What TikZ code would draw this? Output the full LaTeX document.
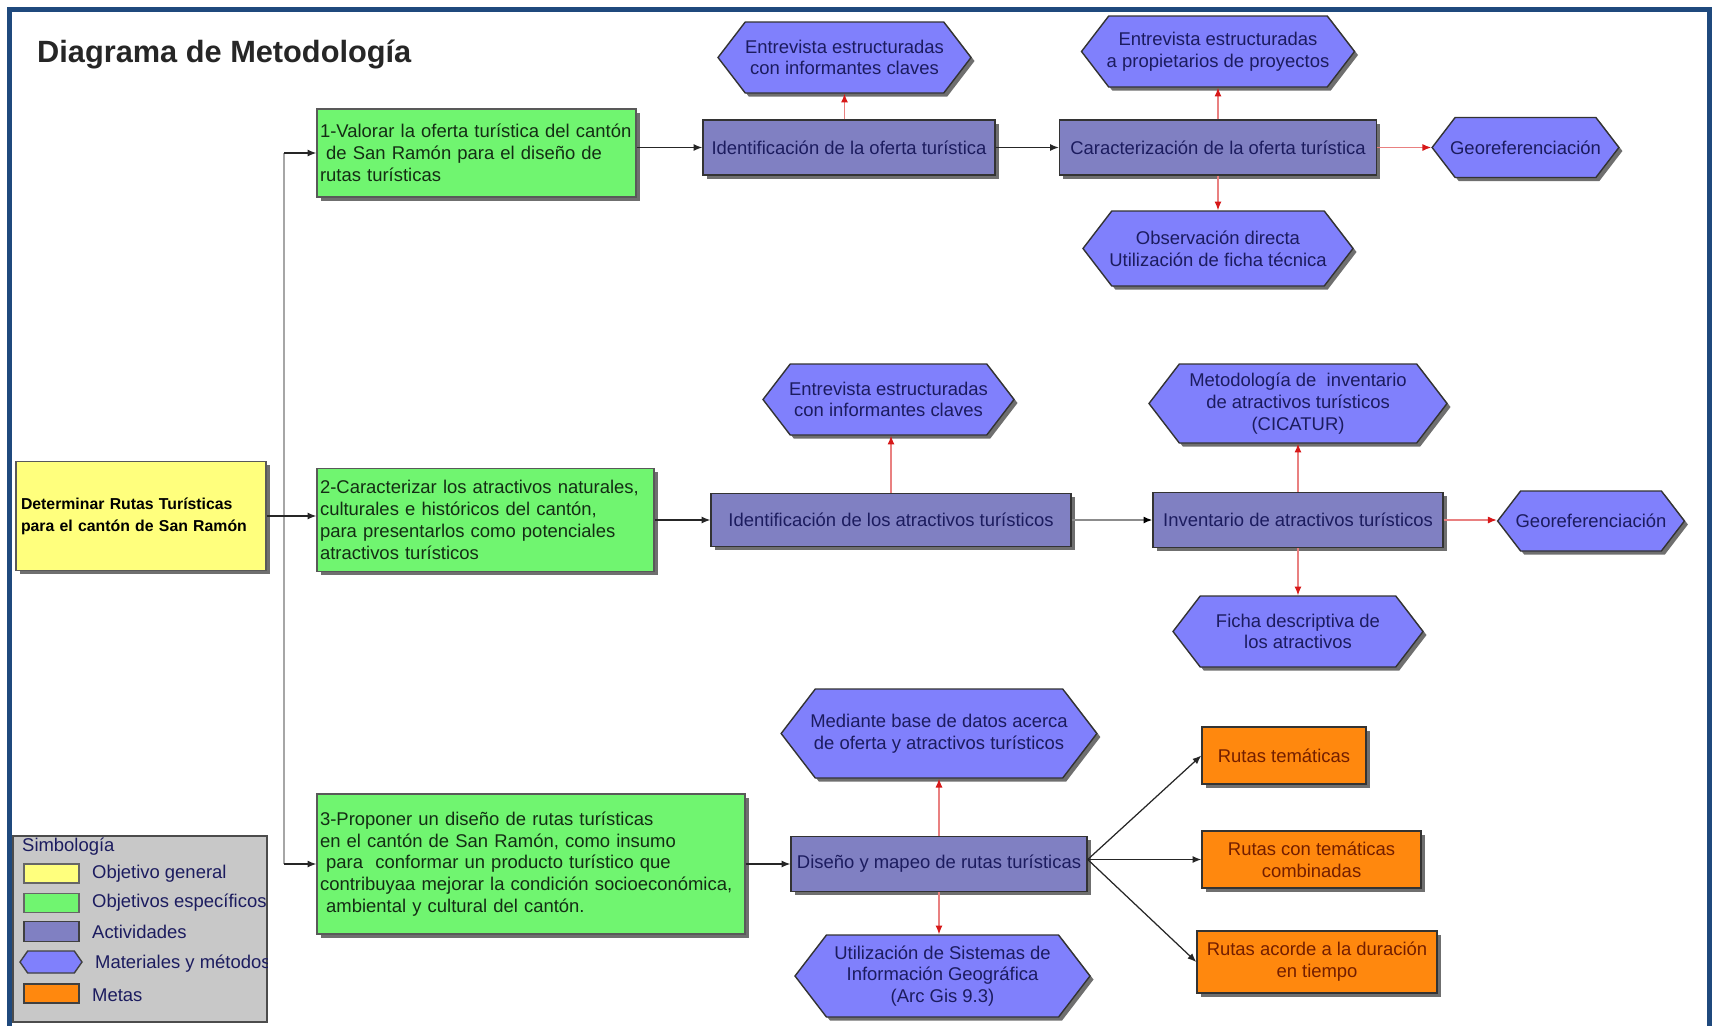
\documentclass[tikz,border=0pt]{standalone}
\usepackage{fontspec}
\setmainfont{Liberation Sans}
\usetikzlibrary{shapes.symbols,shadows,arrows.meta}
\definecolor{marco}{RGB}{31,73,125}
\definecolor{amarillo}{RGB}{255,255,125}
\definecolor{verde}{RGB}{112,245,112}
\definecolor{lila}{RGB}{128,128,194}
\definecolor{celeste}{RGB}{128,128,252}
\definecolor{naranja}{RGB}{255,136,14}
\definecolor{gris}{RGB}{200,200,200}
\definecolor{tinta}{RGB}{28,28,95}
\definecolor{tintaverde}{RGB}{20,45,20}
\definecolor{tintanaranja}{RGB}{115,30,0}
\definecolor{rojo}{RGB}{215,25,25}
\tikzset{
  ancho/.style={minimum width=#1*0.02cm},
  alto/.style={minimum height=#1*0.02cm},
  sombra/.style={drop shadow={shadow xshift=2pt,shadow yshift=-2pt,fill=black!75,opacity=.75}},
  general/.style={rectangle,draw=black!65,line width=0.8pt,fill=amarillo,sombra,inner xsep=0.1cm,
    font=\bfseries\fontsize{9}{12.4}\selectfont,align=left},
  especifico/.style={rectangle,draw=black!65,line width=0.8pt,fill=verde,sombra,inner xsep=0.06cm,
    text=tintaverde,align=left},
  actividad/.style={rectangle,draw=black!80,line width=0.8pt,fill=lila,sombra,text=tinta,align=center},
  material/.style={signal,signal to=west and east,signal pointer angle=105,draw=black!80,line width=0.8pt,
    fill=celeste,sombra,text=tinta,align=center,inner xsep=-0.1cm,inner ysep=0pt},
  meta/.style={rectangle,draw=black!80,line width=0.8pt,fill=naranja,sombra,text=tintanaranja,align=center},
  muestra/.style={rectangle,draw=black!60,line width=0.8pt},
  flecha/.style={-{Latex[length=5pt,width=4pt]},draw=black!85,line width=0.7pt},
  flechagris/.style={-{Latex[length=5pt,width=4pt,color=black]},draw=black!45,line width=0.8pt},
  flecharoja/.style={-{Latex[length=5pt,width=4pt,color=rojo]},draw=rojo!55,line width=0.7pt},
  tronco/.style={draw=black!35,line width=1pt}
}
\begin{document}
\begin{tikzpicture}[x=0.02cm,y=-0.02cm,font=\fontsize{10.5}{12.4}\selectfont]
\useasboundingbox (0,0) rectangle (1714,1025);
\fill[white] (0,0) rectangle (1714,1025);
\draw[marco,line width=2.9pt] (9.5,1030) -- (9.5,9.5) -- (1709.5,9.5) -- (1709.5,1030);
\node[anchor=west,font=\bfseries\fontsize{17.5}{20}\selectfont,text=black!85] (titulo) at (31,54) {Diagrama de Metodología};

\node[general,ancho=250,alto=109,text width=4.8cm] (gen) at (141,516) {Determinar Rutas Turísticas\\para el cantón de San Ramón};
\node[especifico,ancho=319,alto=88,text width=6.26cm] (obj1) at (476.5,153) {1-Valorar la oferta turística del cantón\\~de San Ramón para el diseño de\\rutas turísticas};
\node[especifico,ancho=337,alto=103,text width=6.62cm] (obj2) at (485.5,520) {2-Caracterizar los atractivos naturales,\\culturales e históricos del cantón,\\para presentarlos como potenciales\\atractivos turísticos};
\node[especifico,ancho=428,alto=140,text width=8.44cm] (obj3) at (531,864) {3-Proponer un diseño de rutas turísticas\\en el cantón de San Ramón, como insumo\\~para~~conformar un producto turístico que\\contribuyaa mejorar la condición socioeconómica,\\~ambiental y cultural del cantón.};

\node[actividad,ancho=292,alto=55] (act1) at (849,147.5) {Identificación de la oferta turística};
\node[material,ancho=253,alto=71] (mat1) at (844.5,57.5) {Entrevista estructuradas\\con informantes claves};
\node[actividad,ancho=317,alto=55] (act2) at (1218,147.5) {Caracterización de la oferta turística};
\node[material,ancho=273,alto=71] (mat2) at (1218,51.5) {Entrevista estructuradas\\a propietarios de proyectos};
\node[material,ancho=270,alto=75] (mat3) at (1218,248.5) {Observación directa\\Utilización de ficha técnica};
\node[material,ancho=169,alto=60] (mat4) at (1525.5,147.5) {Georeferenciación};

\node[actividad,ancho=360,alto=53] (act3) at (891,520) {Identificación de los atractivos turísticos};
\node[material,ancho=251,alto=71] (mat5) at (888.5,399.5) {Entrevista estructuradas\\con informantes claves};
\node[actividad,ancho=290,alto=55] (act4) at (1298,520) {Inventario de atractivos turísticos};
\node[material,ancho=298,alto=79] (mat6) at (1298,403.5) {Metodología de\ \ inventario\\de atractivos turísticos\\(CICATUR)};
\node[material,ancho=250,alto=71] (mat7) at (1298,631.5) {Ficha descriptiva de\\los atractivos};
\node[material,ancho=170,alto=60] (mat8) at (1591,521) {Georeferenciación};

\node[actividad,ancho=296,alto=55] (act5) at (939,864) {Diseño y mapeo de rutas turísticas};
\node[material,ancho=314,alto=89] (mat9) at (939,733.5) {Mediante base de datos acerca\\de oferta y atractivos turísticos};
\node[material,ancho=295,alto=82] (mat10) at (942.5,976) {Utilización de Sistemas de\\Información Geográfica\\(Arc Gis 9.3)};
\node[meta,ancho=164,alto=57] (meta1) at (1284,755.5) {Rutas temáticas};
\node[meta,ancho=219,alto=57] (meta2) at (1311.5,859.5) {Rutas con temáticas\\combinadas};
\node[meta,ancho=240,alto=62] (meta3) at (1317,962) {Rutas acorde a la duración\\en tiempo};

\coordinate (ramaA) at (284,153);
\coordinate (ramaC) at (284,864);
\draw[tronco] (ramaA) -- (ramaC);
\draw[flecha] (ramaA) -- (obj1.west);
\draw[flecha] (gen.east) -- (gen.east -| obj2.west);
\draw[flecha] (ramaC) -- (obj3.west);

\draw[flecha] (obj1.east |- act1.west) -- (act1.west);
\draw[flecharoja] (mat1.south |- act1.north) -- (mat1.south);
\draw[flecha] (act1.east) -- (act2.west);
\draw[flecharoja] (act2.north) -- (mat2.south);
\draw[flecharoja] (act2.south) -- (mat3.north);
\draw[flecharoja] (act2.east) -- (mat4.west |- act2.east);

\draw[flecha] (obj2.east |- act3.west) -- (act3.west);
\draw[flecharoja] (act3.north) -- (act3.north |- mat5.south);
\draw[flechagris] (act3.east) -- (act4.west);
\draw[flecharoja] (act4.north) -- (mat6.south);
\draw[flecharoja] (act4.south) -- (mat7.north);
\draw[flecharoja] (act4.east) -- (mat8.west |- act4.east);

\coordinate (abanico) at (act5.east |- meta2.west);
\draw[flecha] (obj3.east |- act5.west) -- (act5.west);
\draw[flecharoja] (act5.north) -- (mat9.south);
\draw[flecharoja] (act5.south) -- (act5.south |- mat10.north);
\draw[flecha] (abanico) -- (meta1.west);
\draw[flecha] (abanico) -- (meta2.west);
\draw[flecha] (abanico) -- (meta3.west);

\node[rectangle,draw=black!70,line width=1pt,fill=gris,ancho=254,alto=186] (leyenda) at (140,929) {};
\begin{scope}
\clip (leyenda.south west) rectangle (leyenda.north east);
\node[anchor=west,text=tinta] (simb) at (16,847) {Simbología};
\node[muestra,fill=amarillo,ancho=55,alto=19] (lg1) at (51.5,873.5) {};
\node[anchor=west,text=tinta] (tx1) at (86,874) {Objetivo general};
\node[muestra,fill=verde,ancho=55,alto=19] (lg2) at (51.5,903) {};
\node[anchor=west,text=tinta] (tx2) at (86,903) {Objetivos específicos};
\node[muestra,fill=lila,draw=black!75,ancho=55,alto=20] (lg3) at (51.5,931.5) {};
\node[anchor=west,text=tinta] (tx3) at (86,932) {Actividades};
\node[signal,signal to=west and east,signal pointer angle=110,draw=black!75,line width=0.8pt,fill=celeste,ancho=62,alto=22,inner sep=0pt] (lg4) at (51,962) {};
\node[anchor=west,text=tinta] (tx4) at (89,964) {Materiales y métodos};
\node[muestra,fill=naranja,draw=black!75,ancho=55,alto=19] (lg5) at (51.5,993.5) {};
\node[anchor=west,text=tinta] (tx5) at (86,995) {Metas};
\end{scope}
\end{tikzpicture}
\end{document}
